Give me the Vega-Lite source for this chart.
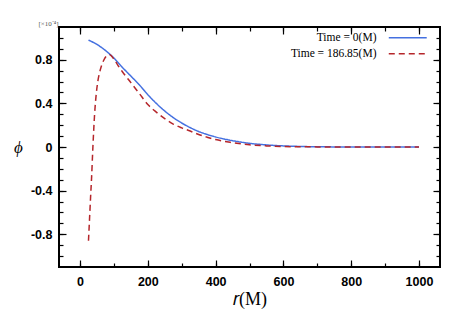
{
  "$schema": "https://vega.github.io/schema/vega-lite/v6.json",
  "width": 381,
  "height": 240,
  "autosize": {"type": "none"},
  "padding": {"left": 59, "top": 27, "right": 24, "bottom": 63},
  "background": "white",
  "config": {
    "view": {"stroke": "black", "strokeWidth": 2},
    "axis": {"domain": false, "grid": false, "tickColor": "black", "tickWidth": 1.2, "labelColor": "black", "titleColor": "black"}
  },
  "data": {"values": [
    {"r": 25, "phi": 0.98, "series": "Time = 0(M)"},
    {"r": 50, "phi": 0.94, "series": "Time = 0(M)"},
    {"r": 75, "phi": 0.885, "series": "Time = 0(M)"},
    {"r": 100, "phi": 0.815, "series": "Time = 0(M)"},
    {"r": 125, "phi": 0.73, "series": "Time = 0(M)"},
    {"r": 150, "phi": 0.65, "series": "Time = 0(M)"},
    {"r": 175, "phi": 0.57, "series": "Time = 0(M)"},
    {"r": 200, "phi": 0.48, "series": "Time = 0(M)"},
    {"r": 225, "phi": 0.40, "series": "Time = 0(M)"},
    {"r": 250, "phi": 0.33, "series": "Time = 0(M)"},
    {"r": 275, "phi": 0.27, "series": "Time = 0(M)"},
    {"r": 300, "phi": 0.22, "series": "Time = 0(M)"},
    {"r": 325, "phi": 0.178, "series": "Time = 0(M)"},
    {"r": 350, "phi": 0.142, "series": "Time = 0(M)"},
    {"r": 375, "phi": 0.115, "series": "Time = 0(M)"},
    {"r": 400, "phi": 0.092, "series": "Time = 0(M)"},
    {"r": 450, "phi": 0.058, "series": "Time = 0(M)"},
    {"r": 500, "phi": 0.034, "series": "Time = 0(M)"},
    {"r": 550, "phi": 0.019, "series": "Time = 0(M)"},
    {"r": 600, "phi": 0.01, "series": "Time = 0(M)"},
    {"r": 650, "phi": 0.005, "series": "Time = 0(M)"},
    {"r": 700, "phi": 0.002, "series": "Time = 0(M)"},
    {"r": 800, "phi": 0.0005, "series": "Time = 0(M)"},
    {"r": 900, "phi": 0, "series": "Time = 0(M)"},
    {"r": 1000, "phi": 0, "series": "Time = 0(M)"},
    {"r": 25, "phi": -0.86, "series": "Time = 186.85(M)"},
    {"r": 27, "phi": -0.73, "series": "Time = 186.85(M)"},
    {"r": 29, "phi": -0.6, "series": "Time = 186.85(M)"},
    {"r": 31, "phi": -0.47, "series": "Time = 186.85(M)"},
    {"r": 34, "phi": -0.29, "series": "Time = 186.85(M)"},
    {"r": 38, "phi": 0.0, "series": "Time = 186.85(M)"},
    {"r": 43, "phi": 0.3, "series": "Time = 186.85(M)"},
    {"r": 48, "phi": 0.49, "series": "Time = 186.85(M)"},
    {"r": 53, "phi": 0.61, "series": "Time = 186.85(M)"},
    {"r": 60, "phi": 0.71, "series": "Time = 186.85(M)"},
    {"r": 70, "phi": 0.795, "series": "Time = 186.85(M)"},
    {"r": 80, "phi": 0.838, "series": "Time = 186.85(M)"},
    {"r": 88, "phi": 0.845, "series": "Time = 186.85(M)"},
    {"r": 100, "phi": 0.805, "series": "Time = 186.85(M)"},
    {"r": 117, "phi": 0.725, "series": "Time = 186.85(M)"},
    {"r": 125, "phi": 0.69, "series": "Time = 186.85(M)"},
    {"r": 150, "phi": 0.59, "series": "Time = 186.85(M)"},
    {"r": 175, "phi": 0.49, "series": "Time = 186.85(M)"},
    {"r": 200, "phi": 0.39, "series": "Time = 186.85(M)"},
    {"r": 225, "phi": 0.32, "series": "Time = 186.85(M)"},
    {"r": 250, "phi": 0.26, "series": "Time = 186.85(M)"},
    {"r": 275, "phi": 0.21, "series": "Time = 186.85(M)"},
    {"r": 300, "phi": 0.175, "series": "Time = 186.85(M)"},
    {"r": 325, "phi": 0.146, "series": "Time = 186.85(M)"},
    {"r": 350, "phi": 0.115, "series": "Time = 186.85(M)"},
    {"r": 375, "phi": 0.09, "series": "Time = 186.85(M)"},
    {"r": 400, "phi": 0.068, "series": "Time = 186.85(M)"},
    {"r": 450, "phi": 0.04, "series": "Time = 186.85(M)"},
    {"r": 500, "phi": 0.02, "series": "Time = 186.85(M)"},
    {"r": 550, "phi": 0.01, "series": "Time = 186.85(M)"},
    {"r": 600, "phi": 0.004, "series": "Time = 186.85(M)"},
    {"r": 700, "phi": 0.001, "series": "Time = 186.85(M)"},
    {"r": 800, "phi": 0, "series": "Time = 186.85(M)"},
    {"r": 1000, "phi": 0, "series": "Time = 186.85(M)"}
  ]},
  "resolve": {"axis": {"x": "independent", "y": "independent"}},
  "layer": [
    {
      "mark": {"type": "line", "opacity": 0},
      "encoding": {
        "x": {"field": "r", "type": "quantitative", "scale": {"domain": [-62, 1062], "nice": false, "zero": false},
              "axis": {"orient": "bottom", "labels": false, "title": null, "tickSize": -7, "values": [0, 200, 400, 600, 800, 1000]}},
        "y": {"field": "phi", "type": "quantitative", "scale": {"domain": [-1.1, 1.1], "nice": false, "zero": false},
              "axis": {"orient": "left", "labels": false, "tickSize": -7, "values": [-0.8, -0.4, 0, 0.4, 0.8],
                       "title": "[×10⁻⁴]", "titleAngle": 0, "titleX": -11, "titleY": -4, "titleAlign": "center", "titleBaseline": "middle",
                       "titleFont": "Liberation Serif", "titleFontSize": 7, "titleFontWeight": "normal", "titleColor": "#555"}},
        "detail": {"field": "series"}
      }
    },
    {
      "mark": {"type": "line", "opacity": 0},
      "encoding": {
        "x": {"field": "r", "type": "quantitative", "scale": {"domain": [-62, 1062], "nice": false, "zero": false},
              "axis": {"orient": "bottom", "labels": false, "title": null, "tickSize": -4, "values": [0, 100, 200, 300, 400, 500, 600, 700, 800, 900, 1000]}},
        "y": {"field": "phi", "type": "quantitative", "scale": {"domain": [-1.1, 1.1], "nice": false, "zero": false},
              "axis": {"orient": "left", "labels": false, "title": null, "tickSize": -4, "values": [-1.0, -0.9, -0.8, -0.7, -0.6, -0.5, -0.4, -0.3, -0.2, -0.1, 0, 0.1, 0.2, 0.3, 0.4, 0.5, 0.6, 0.7, 0.8, 0.9, 1.0]}},
        "detail": {"field": "series"}
      }
    },
    {
      "mark": {"type": "line", "opacity": 0},
      "encoding": {
        "x": {"field": "r", "type": "quantitative", "scale": {"domain": [-62, 1062], "nice": false, "zero": false},
              "axis": {"orient": "top", "labels": false, "title": null, "tickSize": -7, "values": [0, 200, 400, 600, 800, 1000]}},
        "y": {"field": "phi", "type": "quantitative", "scale": {"domain": [-1.1, 1.1], "nice": false, "zero": false},
              "axis": {"orient": "right", "labels": false, "title": null, "tickSize": -7, "values": [-0.8, -0.4, 0, 0.4, 0.8]}},
        "detail": {"field": "series"}
      }
    },
    {
      "mark": {"type": "line", "opacity": 0},
      "encoding": {
        "x": {"field": "r", "type": "quantitative", "scale": {"domain": [-62, 1062], "nice": false, "zero": false},
              "axis": {"orient": "top", "labels": false, "title": null, "tickSize": -4, "values": [0, 100, 200, 300, 400, 500, 600, 700, 800, 900, 1000]}},
        "y": {"field": "phi", "type": "quantitative", "scale": {"domain": [-1.1, 1.1], "nice": false, "zero": false},
              "axis": {"orient": "right", "labels": false, "title": null, "tickSize": -4, "values": [-1.0, -0.9, -0.8, -0.7, -0.6, -0.5, -0.4, -0.3, -0.2, -0.1, 0, 0.1, 0.2, 0.3, 0.4, 0.5, 0.6, 0.7, 0.8, 0.9, 1.0]}},
        "detail": {"field": "series"}
      }
    },
    {
      "mark": {"type": "line", "strokeWidth": 1.5, "interpolate": "monotone"},
      "encoding": {
        "x": {"field": "r", "type": "quantitative", "scale": {"domain": [-62, 1062], "nice": false, "zero": false},
              "axis": {"orient": "bottom", "ticks": false, "values": [0, 200, 400, 600, 800, 1000], "labelPadding": 8,
                       "labelExpr": "'' + datum.value",
                       "labelFont": "Liberation Sans", "labelFontWeight": "bold", "labelFontSize": 12.5,
                       "title": "𝑟(M)", "titleFont": "Liberation Serif", "titleFontSize": 18, "titleFontWeight": "normal",
                       "titleY": 32, "titleBaseline": "middle"}},
        "y": {"field": "phi", "type": "quantitative", "scale": {"domain": [-1.1, 1.1], "nice": false, "zero": false},
              "axis": {"orient": "left", "ticks": false, "values": [-0.8, -0.4, 0, 0.4, 0.8], "labelPadding": 7,
                       "labelExpr": "'' + datum.value",
                       "labelFont": "Liberation Sans", "labelFontWeight": "bold", "labelFontSize": 12.5,
                       "title": "ϕ", "titleFont": "Liberation Serif", "titleFontStyle": "italic", "titleFontSize": 17, "titleFontWeight": "normal",
                       "titleAngle": 0, "titleX": -41, "titleY": 120, "titleAlign": "center", "titleBaseline": "middle"}},
        "color": {"field": "series", "type": "nominal",
                  "scale": {"domain": ["Time = 0(M)", "Time = 186.85(M)"], "range": ["#4470e0", "#b5262b"]},
                  "legend": {"orient": "none", "legendX": 343, "legendY": 5, "title": null, "symbolType": "M-4,0H4",
                             "symbolSize": 90, "symbolStrokeWidth": 1.5, "labelAlign": "right", "labelOffset": -37,
                             "labelFont": "Liberation Serif", "labelFontSize": 11.5, "labelColor": "black", "rowPadding": 3, "labelLimit": 0}},
        "strokeDash": {"field": "series", "type": "nominal",
                       "scale": {"domain": ["Time = 0(M)", "Time = 186.85(M)"], "range": [[1, 0], [6, 4]]},
                       "legend": {"orient": "none", "legendX": 343, "legendY": 5, "title": null, "symbolType": "M-4,0H4",
                             "symbolSize": 90, "symbolStrokeWidth": 1.5, "labelAlign": "right", "labelOffset": -37,
                             "labelFont": "Liberation Serif", "labelFontSize": 11.5, "labelColor": "black", "rowPadding": 3, "labelLimit": 0}}
      }
    }
  ]
}
